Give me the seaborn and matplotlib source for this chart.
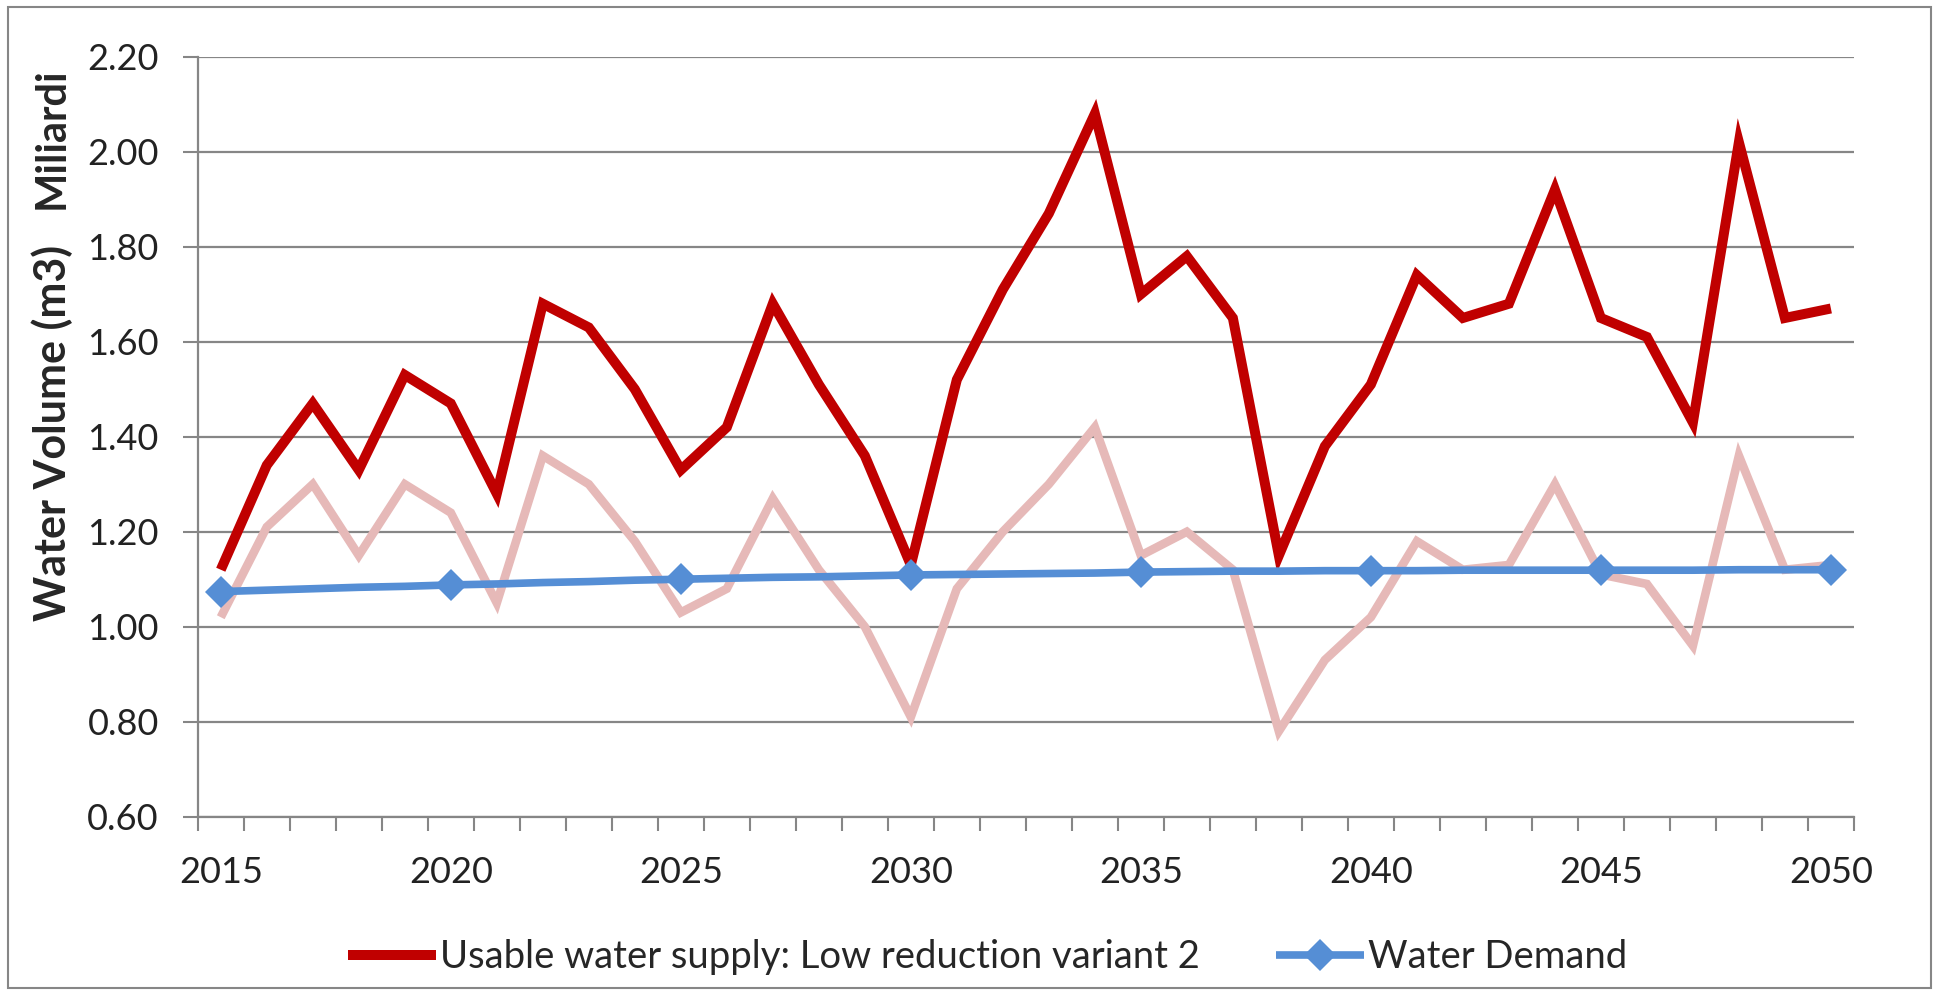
import numpy as np
import pandas as pd
import seaborn as sns
import matplotlib.pyplot as plt
from matplotlib.patches import Rectangle

# data (values in billions of m3)
years = list(range(2015, 2051))
usable_supply = [1.12, 1.34, 1.47, 1.33, 1.53, 1.47, 1.28, 1.68, 1.63, 1.50,
                 1.33, 1.42, 1.68, 1.51, 1.36, 1.13, 1.52, 1.71, 1.87, 2.08,
                 1.70, 1.78, 1.65, 1.15, 1.38, 1.51, 1.74, 1.65, 1.68, 1.92,
                 1.65, 1.61, 1.43, 2.02, 1.65, 1.67]
supply_variant = [1.02, 1.21, 1.30, 1.15, 1.30, 1.24, 1.05, 1.36, 1.30, 1.18,
                  1.03, 1.08, 1.27, 1.12, 1.00, 0.81, 1.08, 1.20, 1.30, 1.42,
                  1.15, 1.20, 1.12, 0.78, 0.93, 1.02, 1.18, 1.12, 1.13, 1.30,
                  1.11, 1.09, 0.96, 1.36, 1.12, 1.13]
water_demand = [1.074, 1.077, 1.080, 1.083, 1.085, 1.088, 1.090, 1.093, 1.095, 1.098,
                1.100, 1.102, 1.104, 1.105, 1.107, 1.109, 1.110, 1.111, 1.112, 1.113,
                1.115, 1.116, 1.117, 1.117, 1.118, 1.118, 1.118, 1.119, 1.119, 1.119,
                1.119, 1.119, 1.119, 1.120, 1.120, 1.120]
tick_years = [2015, 2020, 2025, 2030, 2035, 2040, 2045, 2050]
y_ticks = [0.60, 0.80, 1.00, 1.20, 1.40, 1.60, 1.80, 2.00, 2.20]

supply_label = 'Usable water supply: Low reduction variant 2'
demand_label = 'Water Demand'

df = pd.DataFrame({'year': years, 'supply': usable_supply,
                   'variant': supply_variant, 'demand': water_demand})

sns.set_theme(style='white')
plt.rcParams['font.family'] = ['Lato', 'DejaVu Sans']

fig = plt.figure(figsize=(19.37, 9.92), dpi=100)
ax = fig.add_axes([0.1021, 0.1767, 0.855, 0.7661])

sns.lineplot(data=df, x='year', y='supply', color='#C00000', lw=7.2, ax=ax,
             solid_joinstyle='miter', solid_capstyle='butt')
sns.lineplot(data=df, x='year', y='variant', color='#E6B9B8', lw=6.2, ax=ax,
             solid_joinstyle='miter', solid_capstyle='butt')
sns.lineplot(data=df, x='year', y='demand', color='#558ED5', lw=5.5, ax=ax,
             marker='D', markersize=16, markevery=5, markeredgewidth=0,
             solid_capstyle='butt')

ax.set_xlim(2014.5, 2050.5)
ax.set_ylim(0.6, 2.2)
ax.set_yticks(y_ticks)
ax.yaxis.set_major_formatter('{x:.2f}')
ax.set_xticks(tick_years)
ax.set_xticks(np.arange(2014.5, 2051, 1), minor=True)
ax.set_xlabel('')
ax.set_ylabel('')

ax.grid(axis='y', color='#868686', lw=1.6)
ax.set_axisbelow(True)
for side in ['top', 'right']:
    ax.spines[side].set_visible(False)
for side in ['left', 'bottom']:
    ax.spines[side].set_color('#868686')
    ax.spines[side].set_linewidth(1.6)

ax.tick_params(axis='y', left=True, direction='out', length=11, width=1.5,
               color='#868686', pad=17, labelsize=26, labelcolor='#222222')
ax.tick_params(axis='x', which='major', bottom=True, length=0, pad=28,
               labelsize=26, labelcolor='#222222')
ax.tick_params(axis='x', which='minor', bottom=True, direction='out',
               length=10, width=1.5, color='#868686')

# axis title and display-unit label, both rotated
fig.text(0.0268, 0.5635, 'Water Volume (m3)', rotation=90, fontsize=31,
         fontweight='bold', ha='center', va='center')
fig.text(0.0268, 0.861, 'Miliardi', rotation=90, fontsize=30,
         fontweight='bold', ha='center', va='center')

lines = ax.get_lines()
fig.legend([lines[0], lines[2]], [supply_label, demand_label],
           loc='center', bbox_to_anchor=(0.51, 0.035), ncol=2, frameon=False,
           fontsize=27.5, handlelength=2.3, handletextpad=0.1, columnspacing=2.0)

# chart area border
fig.add_artist(Rectangle((0.004, 0.004), 0.993, 0.989, transform=fig.transFigure,
                         fill=False, edgecolor='#868686', lw=1.5))

fig.savefig('out.png', dpi=100)
